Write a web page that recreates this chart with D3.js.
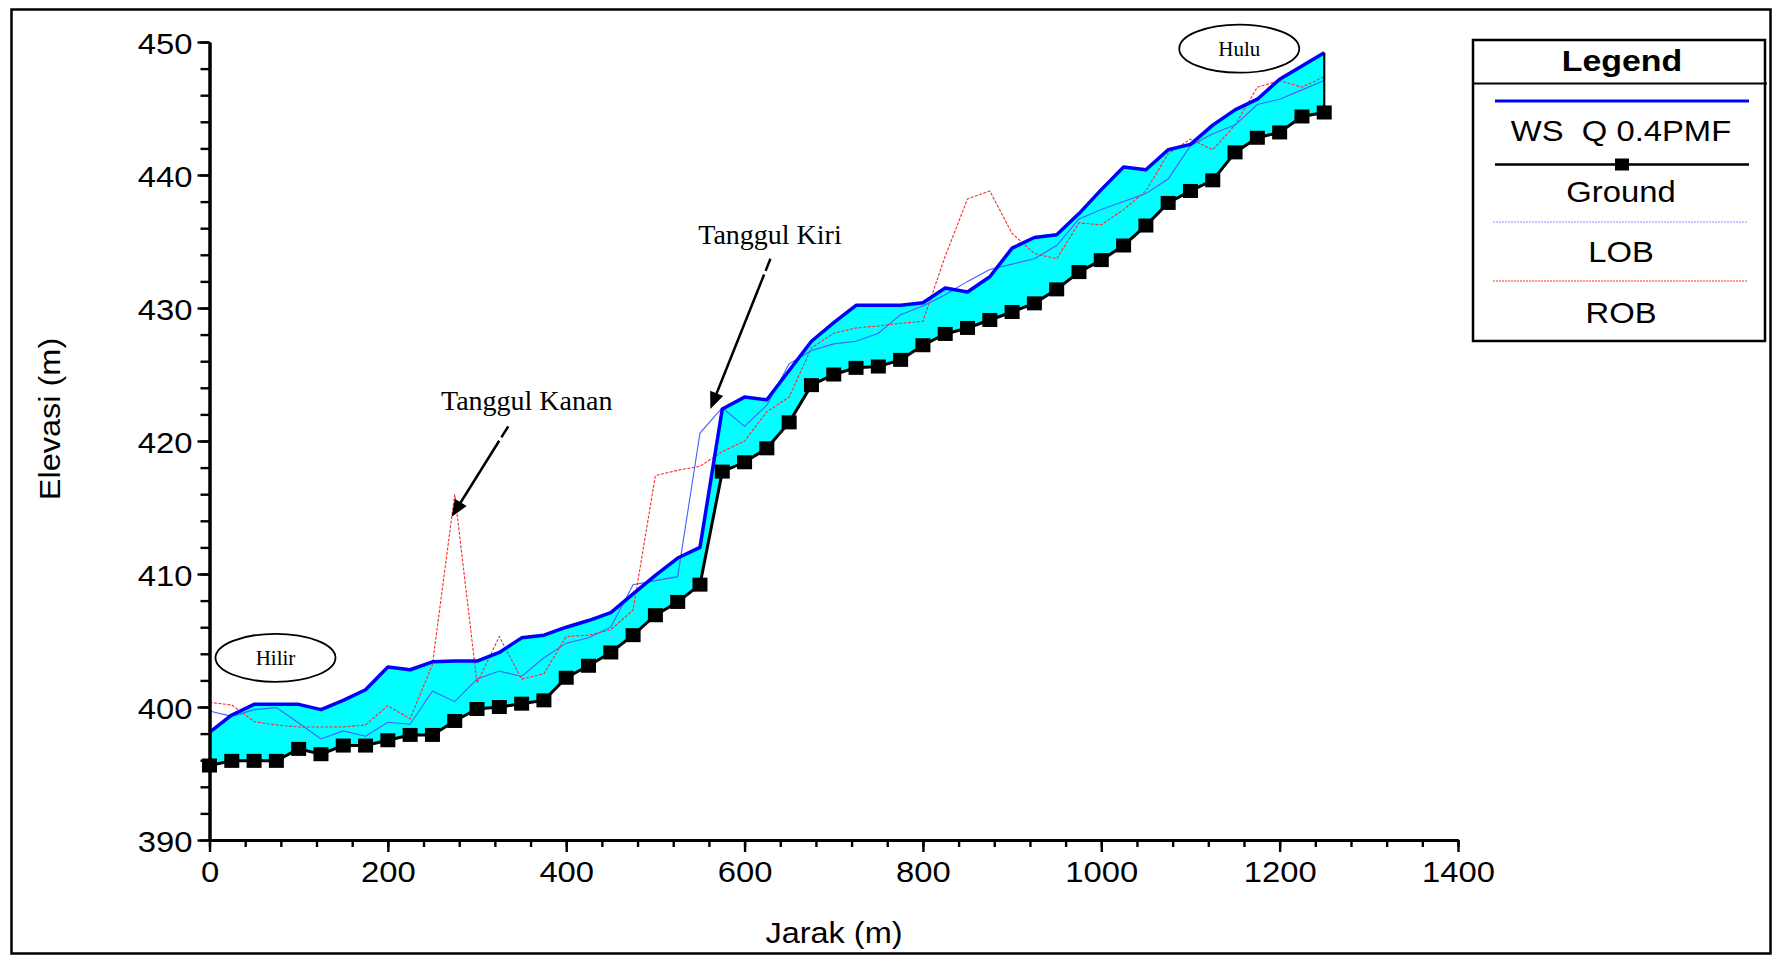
<!DOCTYPE html>
<html>
<head>
<meta charset="utf-8">
<style>
  body { margin: 0; background: #fff; }
  svg { display: block; }
  .sans { font-family: "Liberation Sans", Arial, sans-serif; }
  .serif { font-family: "Liberation Serif", "Times New Roman", serif; }
</style>
</head>
<body>
<svg width="1774" height="961"></svg>
<script src="https://d3js.org/d3.v7.min.js"></script>
<script>

  // stations along the river (m)
  var jarak = [0, 25, 50, 75, 100, 125, 150, 175, 200, 225,
               250, 275, 300, 325, 350, 375, 400, 425, 450, 475,
               500, 525, 550, 575, 600, 625, 650, 675, 700, 725,
               750, 775, 800, 825, 850, 875, 900, 925, 950, 975,
               1000, 1025, 1050, 1075, 1100, 1125, 1150, 1175, 1200, 1225,
               1250];

  var ground = [395.6, 395.95, 395.95, 395.95, 396.85, 396.45, 397.1, 397.1, 397.5, 397.9,
                397.9, 398.95, 399.85, 400.0, 400.25, 400.5, 402.2, 403.1, 404.1, 405.4,
                406.9, 407.9, 409.2, 417.7, 418.4, 419.45, 421.4, 424.2, 425.0, 425.5,
                425.6, 426.1, 427.2, 428.05, 428.5, 429.1, 429.7, 430.35, 431.4, 432.7,
                433.6, 434.7, 436.2, 437.9, 438.8, 439.6, 441.7, 442.8, 443.2, 444.4,
                444.7];

  var ws = [398.1, 399.4, 400.2, 400.2, 400.2, 399.8, 400.5, 401.3, 403.0, 402.8,
            403.4, 403.45, 403.45, 404.1, 405.2, 405.4, 406.0, 406.5, 407.1, 408.5,
            409.9, 411.2, 412.0, 422.4, 423.3, 423.1, 425.3, 427.5, 428.9, 430.2,
            430.2, 430.2, 430.4, 431.5, 431.2, 432.35, 434.5, 435.3, 435.5, 437.1,
            438.9, 440.6, 440.4, 441.9, 442.3, 443.75, 444.9, 445.7, 447.2, 448.2,
            449.2];

  var lob = [399.7, 399.3, 399.8, 399.95, 398.8, 397.6, 398.2, 397.8, 398.85, 398.7,
             401.2, 400.4, 402.1, 402.7, 402.3, 403.7, 404.8, 405.2, 406.0, 409.2,
             409.5, 409.8, 420.6, 422.5, 421.1, 422.7, 425.8, 426.8, 427.3, 427.5,
             428.1, 429.5, 430.15, 431.0, 432.0, 432.9, 433.3, 433.7, 434.7, 436.7,
             437.4, 438.0, 438.6, 439.7, 442.2, 443.1, 443.75, 445.3, 445.7, 446.4,
             447.1];

  var rob = [400.35, 400.15, 398.9, 398.65, 398.5, 398.5, 398.5, 398.65, 400.1, 399.1,
             403.2, 416.0, 401.8, 405.3, 402.1, 402.5, 405.3, 405.4, 405.8, 407.3,
             417.4, 417.8, 418.1, 419.2, 420.0, 422.2, 423.3, 427.0, 428.1, 428.5,
             428.65, 428.85, 429.0, 433.9, 438.2, 438.8, 435.6, 434.1, 433.7, 436.4,
             436.25, 437.4, 438.8, 441.6, 442.7, 441.9, 443.75, 446.6, 447.1, 446.6,
             447.4];

  var xTicks = [0, 200, 400, 600, 800, 1000, 1200, 1400];
  var yTicks = [390, 400, 410, 420, 430, 440, 450];
  var legendItems = ["WS  Q 0.4PMF", "Ground", "LOB", "ROB"];

  var svg = d3.select("svg");
  var x = d3.scaleLinear().domain([0, 1400]).range([209.5, 1458]);
  var y = d3.scaleLinear().domain([390, 450]).range([840, 42]);

  var rows = jarak.map(function(j, i) {
    return {j: j, g: ground[i], w: ws[i], l: lob[i], r: rob[i]};
  });

  // stretch arial-ish text a bit wider, like the original picture
  function widen(sel, k) {
    sel.each(function() {
      var w = this.getComputedTextLength();
      this.setAttribute("textLength", w * k);
      this.setAttribute("lengthAdjust", "spacingAndGlyphs");
    });
  }

  // outer frame
  svg.append("rect").attr("x", 11.5).attr("y", 9.5).attr("width", 1759).attr("height", 944)
      .attr("fill", "none").attr("stroke", "#000").attr("stroke-width", 2.5);

  // water between ground and WS
  svg.append("path").datum(rows)
      .attr("fill", "#00ffff")
      .attr("d", d3.area().x(function(d) { return x(d.j); })
                          .y0(function(d) { return y(d.g); })
                          .y1(function(d) { return y(d.w); }));

  var line = function(key) {
    return d3.line().x(function(d) { return x(d.j); }).y(function(d) { return y(d[key]); });
  };

  svg.append("path").datum(rows).attr("d", line("l"))
      .attr("fill", "none").attr("stroke", "#4060ff").attr("stroke-width", 1.1);
  svg.append("path").datum(rows).attr("d", line("r"))
      .attr("fill", "none").attr("stroke", "#ff2a2a").attr("stroke-width", 1.1)
      .attr("stroke-dasharray", "3,1.5");
  svg.append("path").datum(rows).attr("d", line("w"))
      .attr("fill", "none").attr("stroke", "#0000ff").attr("stroke-width", 3.5)
      .attr("stroke-linejoin", "round");

  var last = rows[rows.length - 1];
  svg.append("line")
      .attr("x1", x(last.j)).attr("x2", x(last.j))
      .attr("y1", y(last.w)).attr("y2", y(last.g))
      .attr("stroke", "#000").attr("stroke-width", 2.2);

  svg.append("path").datum(rows).attr("d", line("g"))
      .attr("fill", "none").attr("stroke", "#000").attr("stroke-width", 3);

  svg.append("g").selectAll("rect").data(rows).enter().append("rect")
      .attr("x", function(d) { return x(d.j) - 7.5; })
      .attr("y", function(d) { return y(d.g) - 7; })
      .attr("width", 15).attr("height", 14)
      .attr("fill", "#000");

  // axes
  function styleAxis(g) {
    g.attr("font-size", null).attr("font-family", null);
    g.select(".domain").attr("stroke-width", 3);
    g.selectAll(".tick line").attr("stroke-width", 2.4);
    g.selectAll(".tick text").attr("class", "sans").attr("font-size", 29).attr("fill", "#000");
  }

  var yMinor = svg.append("g").attr("transform", "translate(209.5,0)")
      .call(d3.axisLeft(y).tickValues(d3.range(390, 451, 2)).tickSize(9).tickFormat("").tickSizeOuter(0));
  styleAxis(yMinor);
  var yMajor = svg.append("g").attr("transform", "translate(209.5,0)")
      .call(d3.axisLeft(y).tickValues(yTicks).tickSize(12).tickPadding(5).tickSizeOuter(0)
              .tickFormat(d3.format("d")));
  styleAxis(yMajor);
  yMajor.selectAll(".tick text").attr("dy", "0.4em");

  var xMinor = svg.append("g").attr("transform", "translate(0,840)")
      .call(d3.axisBottom(x).tickValues(d3.range(0, 1401, 40)).tickSize(7).tickFormat("").tickSizeOuter(0));
  styleAxis(xMinor);
  var xMajor = svg.append("g").attr("transform", "translate(0,840)")
      .call(d3.axisBottom(x).tickValues(xTicks).tickSize(12).tickPadding(9).tickSizeOuter(0)
              .tickFormat(d3.format("d")));
  styleAxis(xMajor);

  widen(yMajor.selectAll(".tick text"), 1.13);
  widen(xMajor.selectAll(".tick text"), 1.13);

  var yTitle = svg.append("text").attr("class", "sans").attr("font-size", 29)
      .attr("text-anchor", "middle")
      .attr("transform", "translate(60,419) rotate(-90)")
      .text("Elevasi (m)");
  var xTitle = svg.append("text").attr("class", "sans").attr("font-size", 29)
      .attr("text-anchor", "middle")
      .attr("x", 834).attr("y", 943)
      .text("Jarak (m)");
  widen(yTitle, 1.12);
  widen(xTitle, 1.12);

  // annotations
  function ellipseLabel(d, e, label) {
    svg.append("ellipse").attr("cx", x(d)).attr("cy", y(e)).attr("rx", 60).attr("ry", 24)
        .attr("fill", "none").attr("stroke", "#000").attr("stroke-width", 1.8);
    svg.append("text").attr("class", "serif").attr("font-size", 21)
        .attr("text-anchor", "middle").attr("x", x(d)).attr("y", y(e) + 7)
        .text(label);
  }
  ellipseLabel(74, 403.7, "Hilir");
  ellipseLabel(1154.7, 449.5, "Hulu");

  function arrow(d1, e1, d2, e2) {
    var x1 = x(d1), y1 = y(e1), x2 = x(d2), y2 = y(e2);
    var dx = x2 - x1, dy = y2 - y1, len = Math.sqrt(dx * dx + dy * dy);
    var ux = dx / len, uy = dy / len, hl = 17, hw = 7;
    svg.append("line").attr("x1", x1).attr("y1", y1)
        .attr("x2", x2 - ux * hl * 0.8).attr("y2", y2 - uy * hl * 0.8)
        .attr("stroke", "#000").attr("stroke-width", 2.5)
        .attr("stroke-dasharray", "13,4," + len);
    var bx = x2 - ux * hl, by = y2 - uy * hl;
    svg.append("path")
        .attr("d", "M" + x2 + "," + y2 +
                   "L" + (bx - uy * hw) + "," + (by + ux * hw) +
                   "L" + (bx + uy * hw) + "," + (by - ux * hw) + "Z")
        .attr("fill", "#000");
  }

  svg.append("text").attr("class", "serif").attr("font-size", 28)
      .attr("text-anchor", "middle").attr("x", x(355.7)).attr("y", 410)
      .text("Tanggul Kanan");
  arrow(335, 421.1, 271.6, 414.3);

  svg.append("text").attr("class", "serif").attr("font-size", 28)
      .attr("text-anchor", "middle").attr("x", 770).attr("y", 244)
      .text("Tanggul Kiri");
  arrow(629, 433.7, 561.6, 422.4);

  // legend box
  var lg = svg.append("g");
  lg.append("rect").attr("x", 1473).attr("y", 40).attr("width", 292).attr("height", 301)
      .attr("fill", "#fff").attr("stroke", "#000").attr("stroke-width", 2.5);
  lg.append("line").attr("x1", 1473).attr("x2", 1767).attr("y1", 83.5).attr("y2", 83.5)
      .attr("stroke", "#000").attr("stroke-width", 2.2);
  var lt = lg.append("text").attr("class", "sans").attr("font-size", 30).attr("font-weight", "bold")
      .attr("text-anchor", "middle").attr("x", 1622).attr("y", 71).text("Legend");
  widen(lt, 1.13);

  var legY = [101, 164.5, 222, 281];
  var legText = [141, 202, 262, 323];
  lg.append("line").attr("x1", 1495).attr("x2", 1749).attr("y1", legY[0]).attr("y2", legY[0])
      .attr("stroke", "#0000ff").attr("stroke-width", 3);
  lg.append("line").attr("x1", 1495).attr("x2", 1749).attr("y1", legY[1]).attr("y2", legY[1])
      .attr("stroke", "#000").attr("stroke-width", 2.5);
  lg.append("rect").attr("x", 1615).attr("y", legY[1] - 6).attr("width", 14).attr("height", 12)
      .attr("fill", "#000");
  lg.append("line").attr("x1", 1493).attr("x2", 1747).attr("y1", legY[2]).attr("y2", legY[2])
      .attr("stroke", "#8c8cff").attr("stroke-width", 1.2).attr("stroke-dasharray", "2,1");
  lg.append("line").attr("x1", 1493).attr("x2", 1747).attr("y1", legY[3]).attr("y2", legY[3])
      .attr("stroke", "#ff3030").attr("stroke-width", 1.2).attr("stroke-dasharray", "2,1");

  var items = lg.selectAll(".item").data(legendItems).enter().append("text")
      .attr("class", "sans item").attr("font-size", 29)
      .attr("text-anchor", "middle").style("white-space", "pre")
      .attr("x", 1621).attr("y", function(d, i) { return legText[i]; })
      .text(function(d) { return d; });
  widen(items, 1.13);

</script>
</body>
</html>
